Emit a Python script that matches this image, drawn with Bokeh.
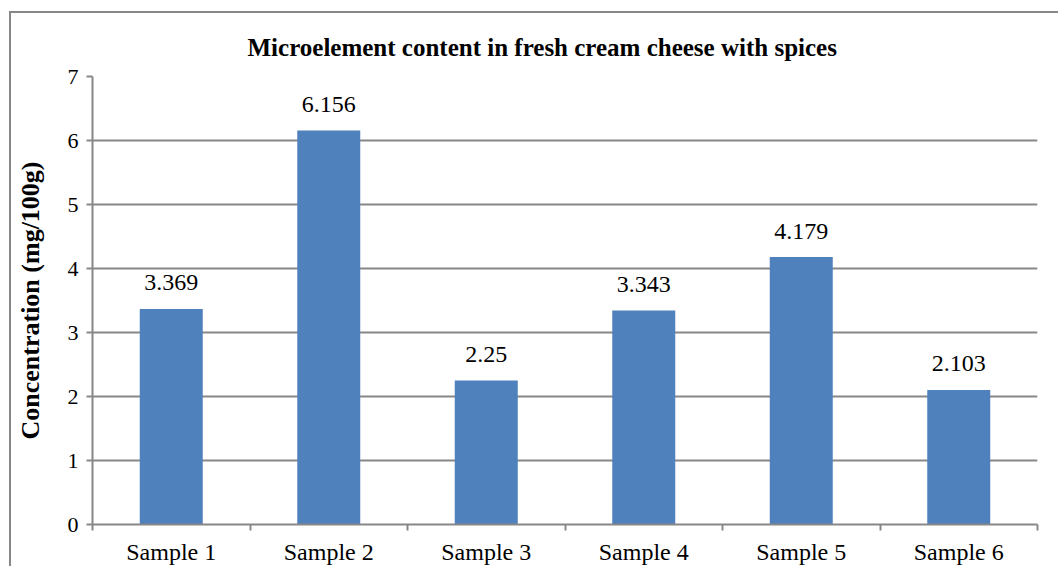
from bokeh.plotting import figure
from bokeh.models import ColumnDataSource, Range1d, FixedTicker
from bokeh.core.properties import value
from bokeh.embed import file_html
from bokeh.resources import INLINE

# Data
categories = ["Sample 1", "Sample 2", "Sample 3", "Sample 4", "Sample 5", "Sample 6"]
values = [3.369, 6.156, 2.25, 3.343, 4.179, 2.103]
value_labels = ["3.369", "6.156", "2.25", "3.343", "4.179", "2.103"]
y_ticks = [0, 1, 2, 3, 4, 5, 6, 7]

title_text = "Microelement content in fresh cream cheese with spices"
y_label = "Concentration (mg/100g)"

FONT = "Liberation Serif"
GRAY = "#878787"
BLUE = "#4F81BD"

xpos = [i + 0.5 for i in range(len(categories))]
src = ColumnDataSource(dict(x=xpos, top=values, label=value_labels))

p = figure(width=1049, height=555, output_backend="svg", toolbar_location=None,
           x_range=Range1d(0, len(categories)), y_range=Range1d(0, 7),
           min_border_left=81, min_border_right=23, min_border_top=63, min_border_bottom=44,
           background_fill_color="white", border_fill_color="white")
p.outline_line_color = None
p.styles = {"margin-left": "9px", "margin-top": "11px",
            "border-left": f"2px solid {GRAY}", "border-top": f"2px solid {GRAY}"}

p.title.text = title_text
p.title.text_font = FONT
p.title.text_font_size = "25px"
p.title.text_font_style = "bold"
p.title.text_color = "#000000"
p.title.align = "left"
p.title.offset = 155
p.title.standoff = 31

p.vbar(x="x", top="top", width=0.4, bottom=0, source=src, fill_color=BLUE, line_color=None)
p.text(x="x", y="top", text="label", source=src, text_align="center", text_baseline="alphabetic",
       y_offset=-26, text_font=value(FONT), text_font_size="24px",
       text_color="#000000")

# y axis
p.yaxis.ticker = FixedTicker(ticks=y_ticks)
p.yaxis.axis_label = y_label
p.yaxis.axis_label_text_font = FONT
p.yaxis.axis_label_text_font_size = "26px"
p.yaxis.axis_label_text_font_style = "bold"
p.yaxis.axis_label_text_color = "#000000"
p.yaxis.axis_label_standoff = 20
p.yaxis.major_label_text_font = FONT
p.yaxis.major_label_text_font_size = "22px"
p.yaxis.major_label_text_color = "#000000"
p.yaxis.major_label_standoff = 8
p.yaxis.axis_line_color = GRAY
p.yaxis.axis_line_width = 2
p.yaxis.major_tick_line_color = GRAY
p.yaxis.major_tick_line_width = 2
p.yaxis.major_tick_out = 6
p.yaxis.major_tick_in = 0
p.yaxis.minor_tick_line_color = None

# x axis: labels at category centres, tick marks at boundaries
p.xaxis.ticker = FixedTicker(ticks=xpos, minor_ticks=list(range(len(categories) + 1)))
p.xaxis.major_label_overrides = {x: c for x, c in zip(xpos, categories)}
p.xaxis.major_label_text_font = FONT
p.xaxis.major_label_text_font_size = "24px"
p.xaxis.major_label_text_color = "#000000"
p.xaxis.major_label_standoff = 8
p.xaxis.axis_line_color = GRAY
p.xaxis.axis_line_width = 2
p.xaxis.major_tick_line_color = None
p.xaxis.minor_tick_line_color = GRAY
p.xaxis.minor_tick_line_width = 2
p.xaxis.minor_tick_out = 6
p.xaxis.minor_tick_in = 0

p.xgrid.grid_line_color = None
p.ygrid.grid_line_color = GRAY
p.ygrid.grid_line_width = 2

open("out.html", "w").write(file_html(p, INLINE))
